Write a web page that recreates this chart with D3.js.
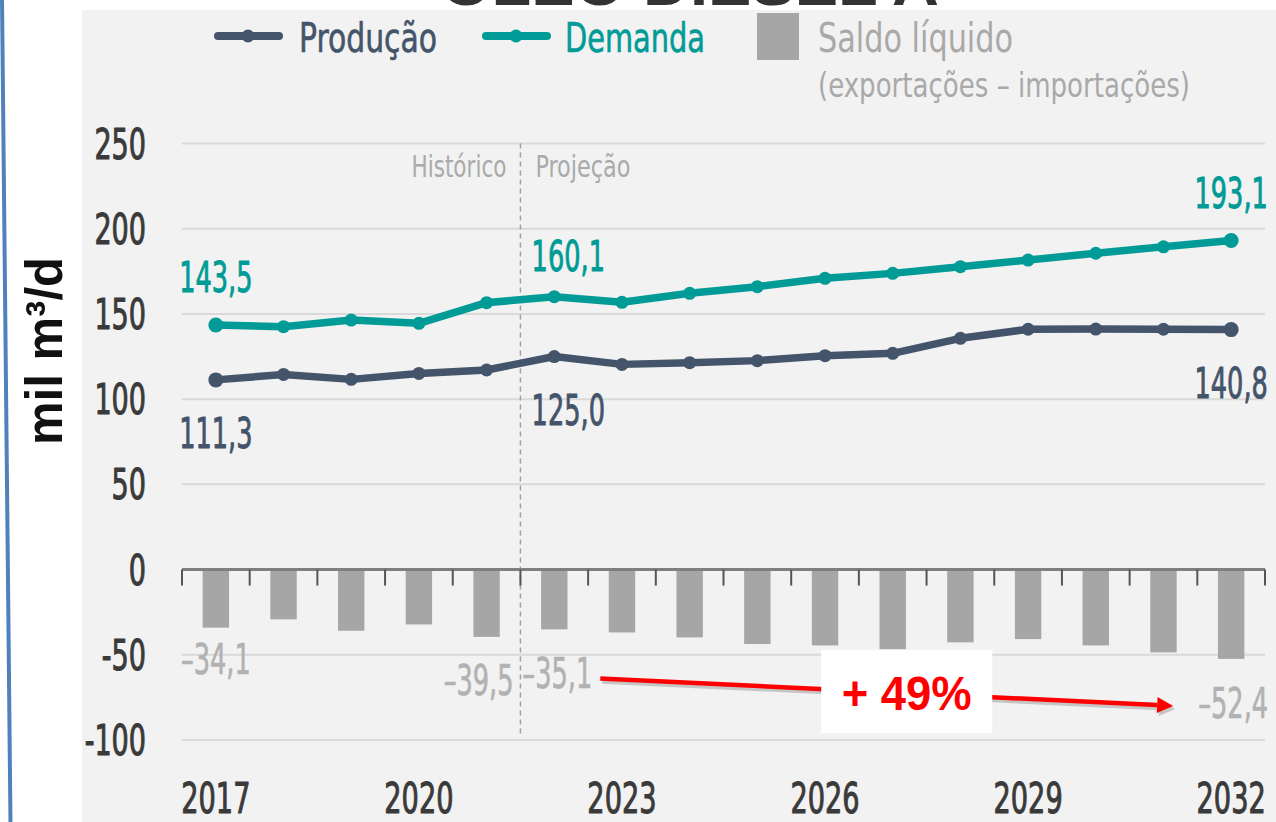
<!DOCTYPE html>
<html>
<head>
<meta charset="utf-8">
<script src="https://cdn.jsdelivr.net/npm/d3@7"></script>
<style>
  body { margin: 0; background: #ffffff; }
  svg { display: block; }
  text { font-family: "Liberation Sans Narrow", "DejaVu Sans Condensed", "Roboto Condensed", sans-serif; }
</style>
</head>
<body>
<svg id="chart" width="1276" height="822"></svg>
<script>
// ---------------- DATA ----------------
const years = [2017, 2018, 2019, 2020, 2021, 2022, 2023, 2024, 2025, 2026, 2027, 2028, 2029, 2030, 2031, 2032];
const producao = [111.3, 114.5, 111.6, 115.1, 117.1, 125.0, 120.4, 121.4, 122.6, 125.5, 126.9, 135.7, 141.0, 141.1, 141.0, 140.8];
const demanda  = [143.5, 142.5, 146.4, 144.5, 156.6, 160.1, 156.8, 162.1, 166.0, 170.9, 173.8, 177.7, 181.6, 185.6, 189.4, 193.1];
const saldo    = [-34.1, -29.2, -35.9, -32.2, -39.5, -35.1, -36.9, -39.8, -43.7, -44.5, -46.7, -42.7, -40.8, -44.5, -48.6, -52.4];
const yTicks = [-100, -50, 0, 50, 100, 150, 200, 250];
const xTickYears = [2017, 2020, 2023, 2026, 2029, 2032];
const labelYearsLines = [2017, 2022, 2032];
const labelYearsSaldo = [2017, 2021, 2022, 2032];
const historicEndYear = 2021;
const arrowYears = [2022, 2032];
const title = "ÓLEO DIESEL A";
const yTitle = "mil m³/d";
const legendItems = ["Produção", "Demanda", "Saldo líquido"];
const legendSub = "(exportações – importações)";
const phaseLabels = ["Histórico", "Projeção"];

// ---------------- SETUP ----------------
const C_PROD = "#44546a", C_DEM = "#009b96", C_BAR = "#a6a6a6", C_BARTXT = "#b2b2b2";
const svg = d3.select("#chart");
const fmt = d3.formatLocale({decimal: ",", thousands: ".", grouping: [3], currency: ["", ""], minus: "–"}).format(".1f");

function measure(str, size) {
  const t = svg.append("text").style("font-size", size + "px").text(str);
  const L = t.node().getComputedTextLength();
  t.remove();
  return L;
}
function squeeze(sel, f) {
  sel.each(function () {
    const L = this.getComputedTextLength();
    this.setAttribute("textLength", L * f);
    this.setAttribute("lengthAdjust", "spacingAndGlyphs");
  });
  return sel;
}
function fitTo(sel, w) {
  sel.attr("textLength", w).attr("lengthAdjust", "spacingAndGlyphs");
  return sel;
}
function heavy(sel, col, w) {
  return sel.attr("stroke", col).attr("stroke-width", w).attr("stroke-linejoin", "round");
}
// condensation factors so the digits get the narrow look of the original typeface
const digitF = (size, perDigit) => (4 * perDigit) / measure("0000", size);

const x = d3.scaleBand().domain(years).range([182, 1265]).padding(0);
const xBar = d3.scaleBand().domain(years).range([182, 1265]).paddingInner(0.61).paddingOuter(0.305);
const xc = yr => x(yr) + x.bandwidth() / 2;
const y = d3.scaleLinear().domain([-100, 250]).range([740, 143.5]);
const idx = yr => years.indexOf(yr);

// blue slanted border at left
svg.append("line").attr("x1", 2).attr("y1", -2).attr("x2", 10.5).attr("y2", 824)
  .attr("stroke", "#4f81bd").attr("stroke-width", 4);

// title (cut off at top)
fitTo(svg.append("text").attr("x", 690).attr("y", 4.5).attr("text-anchor", "middle")
  .style("font-family", "'Liberation Sans', Arial, sans-serif").style("font-weight", "bold")
  .style("font-size", "62px").attr("fill", "#333").text(title), 498);

// panel
svg.append("rect").attr("x", 82).attr("y", 10).attr("width", 1276 - 82).attr("height", 822 - 10).attr("fill", "#f2f2f2");

// y title
fitTo(svg.append("text").attr("transform", "translate(62,351) rotate(-90)").attr("text-anchor", "middle")
  .style("font-family", "'Liberation Sans', Arial, sans-serif").style("font-weight", "bold")
  .style("font-size", "52px").attr("fill", "#111").text(yTitle), 188);

// grid
svg.append("g").selectAll("line").data(yTicks.filter(d => d !== 0)).join("line")
  .attr("x1", 182).attr("x2", 1265).attr("y1", d => y(d)).attr("y2", d => y(d))
  .attr("stroke", "#d9d9d9").attr("stroke-width", 2);

// y tick labels
const fY = digitF(42, 17.2);
heavy(squeeze(svg.append("g").selectAll("text").data(yTicks).join("text")
  .attr("x", 146).attr("y", d => y(d) + 15).attr("text-anchor", "end")
  .style("font-size", "42px").attr("fill", "#3a3a3a").text(d => String(d)), fY), "#3a3a3a", 1);

// historic/projection divider
const divX = x(historicEndYear) + x.bandwidth();
svg.append("line").attr("x1", divX).attr("x2", divX).attr("y1", y(250)).attr("y2", y(-100) - 4)
  .attr("stroke", "#a0a0a0").attr("stroke-width", 1.5).attr("stroke-dasharray", "5,4");
fitTo(svg.append("text").attr("x", divX - 14).attr("y", 177).attr("text-anchor", "end")
  .style("font-size", "30px").attr("fill", "#aaaaaa").text(phaseLabels[0]), 95);
fitTo(svg.append("text").attr("x", divX + 15).attr("y", 177).attr("text-anchor", "start")
  .style("font-size", "30px").attr("fill", "#aaaaaa").text(phaseLabels[1]), 95);

// bars
svg.append("g").selectAll("rect").data(years).join("rect")
  .attr("x", d => xBar(d)).attr("width", xBar.bandwidth())
  .attr("y", y(0)).attr("height", (d, i) => y(saldo[i]) - y(0))
  .attr("fill", C_BAR);

// zero axis and ticks
svg.append("line").attr("x1", 182).attr("x2", 1265).attr("y1", y(0)).attr("y2", y(0))
  .attr("stroke", "#7f7f7f").attr("stroke-width", 3);
const bounds = years.map(d => x(d)).concat([x.range()[1]]);
svg.append("g").selectAll("line").data(bounds).join("line")
  .attr("x1", d => d).attr("x2", d => d).attr("y1", y(0)).attr("y2", y(0) + 16)
  .attr("stroke", "#555").attr("stroke-width", 2);

// x labels
const fX = digitF(42, 17.3);
heavy(squeeze(svg.append("g").selectAll("text").data(xTickYears).join("text")
  .attr("x", d => xc(d)).attr("y", 813).attr("text-anchor", "middle")
  .style("font-size", "42px").attr("fill", "#3a3a3a").text(d => d), fX), "#3a3a3a", 1);

// lines
const line = d3.line().x((d, i) => xc(years[i])).y(d => y(d));
[[producao, C_PROD], [demanda, C_DEM]].forEach(([arr, col]) => {
  svg.append("path").datum(arr).attr("d", line).attr("fill", "none")
    .attr("stroke", col).attr("stroke-width", 7.5).attr("stroke-linejoin", "round");
  svg.append("g").selectAll("circle").data(arr).join("circle")
    .attr("cx", (d, i) => xc(years[i])).attr("cy", d => y(d))
    .attr("r", (d, i) => (i === 0 || i === arr.length - 1) ? 7.5 : 6.5).attr("fill", col);
});

// value labels
const fV = digitF(42, 16.3);
const lineLabelDx = {2017: 0, 2022: 14, 2032: 0};
const demDy = {2017: -33, 2022: -26, 2032: -32};
labelYearsLines.forEach(yr => {
  const i = idx(yr), dx = lineLabelDx[yr];
  heavy(squeeze(svg.append("text").attr("x", xc(yr) + dx).attr("y", y(demanda[i]) + demDy[yr])
    .attr("text-anchor", "middle").style("font-size", "42px").attr("fill", C_DEM).text(fmt(demanda[i])), fV), C_DEM, 0.9);
  heavy(squeeze(svg.append("text").attr("x", xc(yr) + dx).attr("y", y(producao[i]) + 68)
    .attr("text-anchor", "middle").style("font-size", "42px").attr("fill", C_PROD).text(fmt(producao[i])), fV), C_PROD, 0.9);
});
const saldoOff = {2017: [0, 46], 2021: [-8, 58], 2022: [3, 59], 2032: [2, 59]};
labelYearsSaldo.forEach(yr => {
  const i = idx(yr), o = saldoOff[yr];
  heavy(squeeze(svg.append("text").attr("x", xc(yr) + o[0]).attr("y", y(saldo[i]) + o[1])
    .attr("text-anchor", "middle").style("font-size", "42px").attr("fill", C_BARTXT).text(fmt(saldo[i])), fV), C_BARTXT, 0.7);
});

// legend
const lg = svg.append("g");
const legW = [138, 140, 195];
[[C_PROD, 218, 299], [C_DEM, 486, 565]].forEach(([col, x0, tx], k) => {
  lg.append("line").attr("x1", x0).attr("x2", x0 + 61).attr("y1", 36).attr("y2", 36)
    .attr("stroke", col).attr("stroke-width", 8).attr("stroke-linecap", "round");
  lg.append("circle").attr("cx", x0 + 30).attr("cy", 36).attr("r", 6.5).attr("fill", col);
  heavy(fitTo(lg.append("text").attr("x", tx).attr("y", 52).style("font-size", "41px").attr("fill", col).text(legendItems[k]), legW[k]), col, 0.6);
});
lg.append("rect").attr("x", 757).attr("y", 13).attr("width", 42).attr("height", 47).attr("fill", C_BAR);
fitTo(lg.append("text").attr("x", 818).attr("y", 52).style("font-size", "41px").attr("fill", "#a9a9a9").text(legendItems[2]), legW[2]);
fitTo(lg.append("text").attr("x", 818).attr("y", 97).style("font-size", "34px").attr("fill", "#a9a9a9").text(legendSub), 372);

// growth annotation
const [ya, yb] = arrowYears;
const sa = saldo[idx(ya)], sb = saldo[idx(yb)];
const growth = Math.round((sb / sa - 1) * 100);
const ax1 = xc(ya) + 46, ay1 = y(sa) + 49, ax2 = xc(yb) - 58, ay2 = y(sb) + 47;
const ang = Math.atan2(ay2 - ay1, ax2 - ax1);
const headLen = 16, headW = 8;
const bx = ax2 - headLen * Math.cos(ang), by = ay2 - headLen * Math.sin(ang);
const ann = svg.append("g");
const shadow = ann.append("g").attr("transform", "translate(2,3)").attr("opacity", 0.18);
[shadow, ann].forEach((g, k) => {
  const c = k === 0 ? "#000" : "#ff0000";
  g.append("line").attr("x1", ax1).attr("y1", ay1).attr("x2", bx).attr("y2", by)
    .attr("stroke", c).attr("stroke-width", 4.5);
  g.append("path").attr("d", `M${ax2},${ay2} L${bx - headW * Math.sin(ang)},${by + headW * Math.cos(ang)} L${bx + headW * Math.sin(ang)},${by - headW * Math.cos(ang)} Z`)
    .attr("fill", c);
});
const mx = (ax1 + ax2) / 2 + 20, my = (ay1 + ay2) / 2;
ann.append("rect").attr("x", mx - 85.5).attr("y", my - 42).attr("width", 171).attr("height", 83).attr("fill", "#ffffff");
fitTo(ann.append("text").attr("x", mx).attr("y", my + 18).attr("text-anchor", "middle")
  .style("font-family", "'Liberation Sans', Arial, sans-serif").style("font-weight", "bold")
  .style("font-size", "48px").attr("fill", "#ff0000").text("+ " + growth + "%"), 130);
</script>
</body>
</html>
